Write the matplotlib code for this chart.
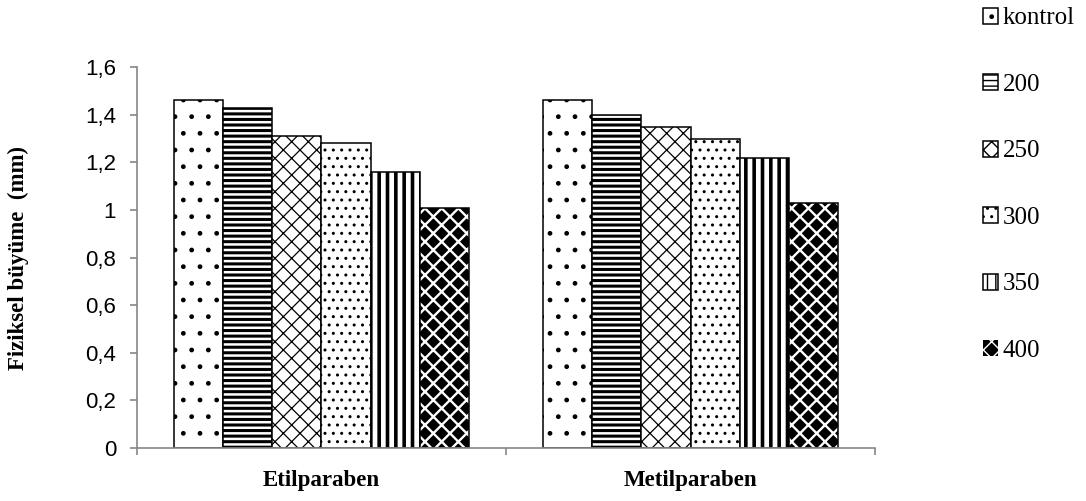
import matplotlib
matplotlib.use('Agg')
import matplotlib.pyplot as plt
import numpy as np

# growth per paraben concentration (mm)
groups = ['Etilparaben', 'Metilparaben']
doses = ['kontrol', '200', '250', '300', '350', '400']
etil = [1.46, 1.43, 1.31, 1.28, 1.16, 1.01]
metil = [1.46, 1.40, 1.35, 1.30, 1.22, 1.03]
yticks = [0, 0.2, 0.4, 0.6, 0.8, 1, 1.2, 1.4, 1.6]
ytick_labels = ['0', '0,2', '0,4', '0,6', '0,8', '1', '1,2', '1,4', '1,6']

# hatch, face, edge, hatch width per series
styles = [
    ('.', 'white', 'black', 1.0),
    ('---', 'white', 'black', 2.2),
    ('xx', 'white', 'black', 0.9),
    ('..', 'white', 'black', 1.0),
    ('||', 'white', 'black', 2.6),
    ('xx', 'black', 'white', 1.7),
]

serif = 'Liberation Serif'
sans = 'Liberation Sans'

fig = plt.figure(figsize=(10.86, 5.01), dpi=100)
ax = fig.add_axes([0.126, 0.106, 0.68, 0.76])

data = np.array([etil, metil]).T
width = 1 / 7.5
x = np.arange(len(groups)) + 0.5
handles = []
for i, (lab, vals) in enumerate(zip(doses, data)):
    hatch, fc, ec, hlw = styles[i]
    pos = x + (i - 2.5) * width
    bars = ax.bar(pos, vals, width, color=fc, edgecolor=ec, hatch=hatch,
                  linewidth=0 if ec == 'white' else 1.1, label=lab)
    for b in bars:
        if hasattr(b, 'set_hatch_linewidth'):
            b.set_hatch_linewidth(hlw)
    if ec == 'white':
        # outline on top of the white-hatched fill
        ax.bar(pos, vals, width, color='none', edgecolor='black', linewidth=1.1)
    handles.append(bars)

ax.set_xlim(0, 2)
ax.set_ylim(0, 1.6)
ax.set_yticks(yticks)
ax.set_yticklabels(ytick_labels, fontfamily=sans, fontsize=16)
ax.set_xticks([0, 1, 2])
ax.set_xticklabels([])
ax.set_xticks(x, minor=True)
ax.set_xticklabels(groups, minor=True, fontfamily=serif, fontweight='bold', fontsize=16.5)
ax.tick_params(axis='x', which='minor', length=0, pad=16)
ax.tick_params(axis='both', which='major', length=5, color='#868686', width=1.2)
ax.tick_params(axis='y', pad=10)
for s in ['top', 'right']:
    ax.spines[s].set_visible(False)
for s in ['left', 'bottom']:
    ax.spines[s].set_color('#868686')
    ax.spines[s].set_linewidth(1.2)

ax.set_ylabel('Fiziksel büyüme  (mm)', fontfamily=serif, fontweight='bold', fontsize=16.5, labelpad=40)

leg = fig.legend(handles=handles, labels=doses, loc='upper left', bbox_to_anchor=(0.884, 1.03),
                 frameon=False, prop={'family': serif, 'size': 18},
                 handlelength=0.6, handleheight=0.6, handletextpad=0.2, labelspacing=1.78)

plt.savefig('out.png', dpi=100)
